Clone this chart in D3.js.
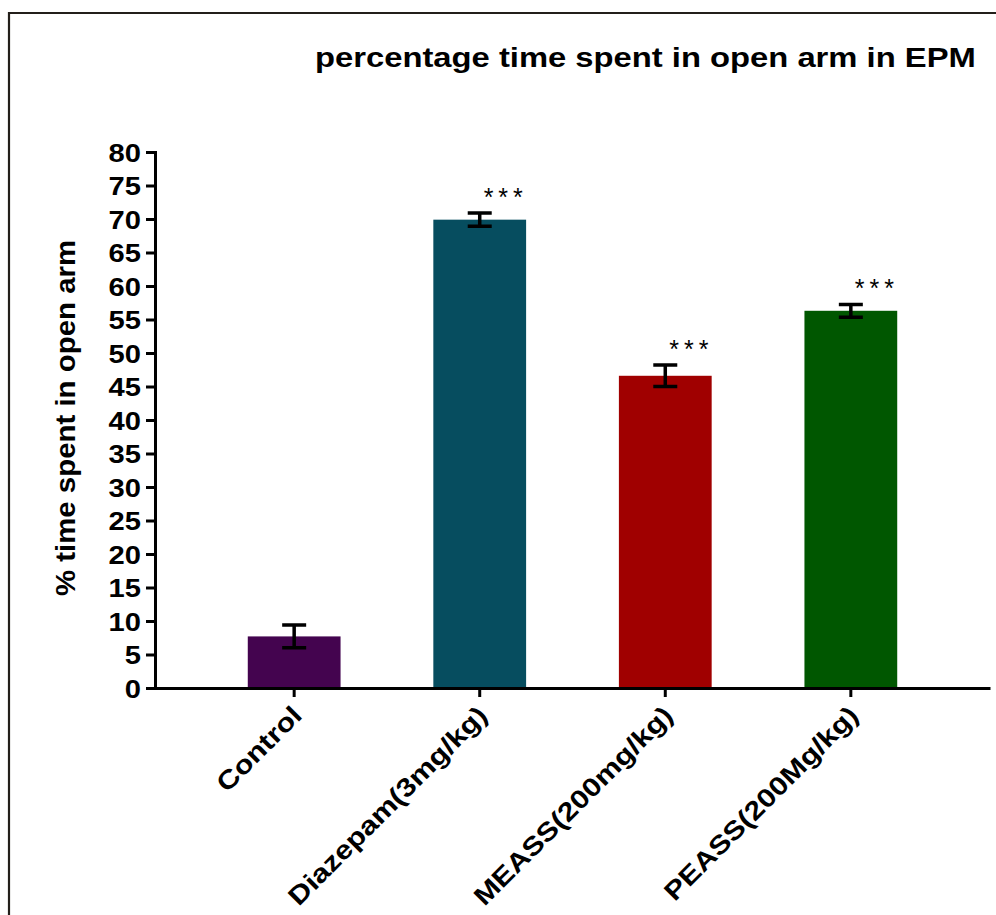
<!DOCTYPE html>
<html>
<head>
<meta charset="utf-8">
<script src="https://cdnjs.cloudflare.com/ajax/libs/d3/7.8.5/d3.min.js"></script>
<style>
  html, body { margin: 0; padding: 0; background: #fff; }
  svg { display: block; font-family: Arial, "Liberation Sans", sans-serif; }
</style>
</head>
<body>
<svg id="chart" width="996" height="915"></svg>
<script>
// Treatment groups, mean % time in open arm, SEM, and bar colours
const groups = ["Control", "Diazepam(3mg/kg)", "MEASS(200mg/kg)", "PEASS(200Mg/kg)"];
const means = [7.7, 69.9, 46.6, 56.3];
const sems = [1.7, 1.0, 1.6, 0.95];
const significance = ["", "***", "***", "***"];
const barColors = ["#44044f", "#064d5f", "#a00000", "#005700"];
const yTicks = [0, 5, 10, 15, 20, 25, 30, 35, 40, 45, 50, 55, 60, 65, 70, 75, 80];

const FONT = "Arial, 'Liberation Sans', sans-serif";
const svg = d3.select("#chart");

// Widen bold labels horizontally (the typeface used is broader than Arial)
function widen(sel, k) {
  sel.each(function () {
    const len = this.getComputedTextLength();
    d3.select(this).attr("textLength", len * k).attr("lengthAdjust", "spacingAndGlyphs");
  });
}

// Outer frame (left and top edges)
svg.append("path")
  .attr("d", "M9,915 V13 H996")
  .attr("fill", "none")
  .attr("stroke", "#231f1a")
  .attr("stroke-width", 2.2);

const x = d3.scaleBand().domain(groups).range([155, 990]).paddingInner(0.5).paddingOuter(0.5);
const y = d3.scaleLinear().domain([0, 80]).range([688, 152]);

// Bars
svg.append("g").selectAll("rect")
  .data(groups)
  .join("rect")
  .attr("x", d => x(d))
  .attr("width", x.bandwidth())
  .attr("y", (d, i) => y(means[i]))
  .attr("height", (d, i) => y(0) - y(means[i]))
  .attr("fill", (d, i) => barColors[i]);

// Error bars (mean ± SEM)
const capHalf = 12;
const err = svg.append("g").attr("stroke", "#000").attr("stroke-width", 3.5).attr("fill", "none");
groups.forEach((g, i) => {
  const cx = x(g) + x.bandwidth() / 2;
  const top = y(means[i] + sems[i]);
  const bot = y(means[i] - sems[i]);
  err.append("path")
    .attr("d", `M${cx},${top} V${bot} M${cx - capHalf},${top} H${cx + capHalf} M${cx - capHalf},${bot} H${cx + capHalf}`);
});

// Significance markers
svg.append("g").selectAll("text")
  .data(groups)
  .join("text")
  .attr("x", d => x(d) + x.bandwidth() / 2 + 26)
  .attr("y", (d, i) => y(means[i] + sems[i]) - 7)
  .attr("text-anchor", "middle")
  .attr("font-size", 25)
  .attr("letter-spacing", 5)
  .text((d, i) => significance[i]);

// Y axis
const yAxis = svg.append("g")
  .attr("transform", "translate(155,0)")
  .call(d3.axisLeft(y).tickValues(yTicks).tickSize(9).tickPadding(5));
yAxis.select(".domain").attr("stroke", "#000").attr("stroke-width", 3);
yAxis.selectAll(".tick line").attr("stroke", "#000").attr("stroke-width", 3);
yAxis.selectAll(".tick text")
  .attr("font-family", FONT)
  .attr("font-size", 26)
  .attr("font-weight", "bold")
  .attr("fill", "#000")
  .attr("dy", "0.36em")
  .call(widen, 1.12);

// X axis
const xAxis = svg.append("g")
  .attr("transform", "translate(0,688)")
  .call(d3.axisBottom(x).tickSize(9).tickSizeOuter(0));
xAxis.select(".domain").attr("stroke", "#000").attr("stroke-width", 3);
xAxis.selectAll(".tick line").attr("stroke", "#000").attr("stroke-width", 3);
xAxis.selectAll(".tick text")
  .attr("font-family", FONT)
  .attr("font-size", 26)
  .attr("font-weight", "bold")
  .attr("fill", "#000")
  .attr("text-anchor", "end")
  .attr("x", -14)
  .attr("y", 27)
  .attr("dy", 0)
  .attr("transform", "rotate(-45)")
  .call(widen, 1.17);

// Y axis title
svg.append("text")
  .attr("transform", "translate(75,418) rotate(-90)")
  .attr("text-anchor", "middle")
  .attr("font-size", 28)
  .attr("font-weight", "bold")
  .text("% time spent in open arm")
  .call(widen, 1.05);

// Chart title
svg.append("text")
  .attr("x", 315)
  .attr("y", 67)
  .attr("text-anchor", "start")
  .attr("font-size", 28)
  .attr("font-weight", "bold")
  .text("percentage time spent in open arm in EPM")
  .call(widen, 1.17);
</script>
</body>
</html>
